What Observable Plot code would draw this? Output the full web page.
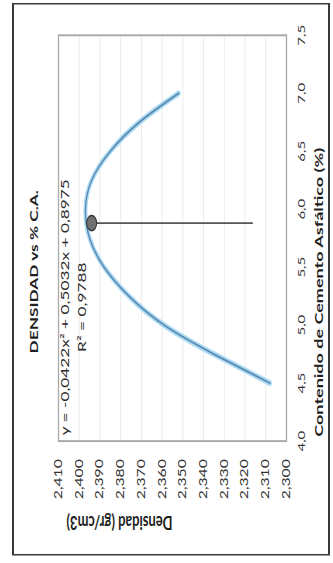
<!DOCTYPE html>
<html>
<head>
<meta charset="utf-8">
<script src="https://cdn.jsdelivr.net/npm/d3@7"></script>
<script src="https://cdn.jsdelivr.net/npm/@observablehq/plot@0.6"></script>
<style>
  html, body { margin: 0; padding: 0; background: #fff; }
  body { width: 333px; height: 563px; overflow: hidden; position: relative; font-family: Lato, "Liberation Sans", sans-serif; }
  /* The chart is laid out landscape, then turned a quarter turn and stretched along its x axis */
  #chart { position: absolute; left: 0; top: 0; width: 375px; height: 333px; transform-origin: 0 0; transform: translate(0px, 563px) rotate(-90deg) scaleX(1.5013); }
  #marco { position: absolute; left: 4.7px; top: 12px; width: 368px; height: 318px; box-sizing: border-box; border: 2px solid #3a3a3a; border-left-width: 1.4px; border-right-width: 1.4px; }
  #titulo { position: absolute; left: 0; width: 388px; top: 26px; text-align: center; font-weight: 700; font-size: 11.5px; line-height: 16px; color: #1e1e1e; }
  #chart svg { position: absolute; left: 0; top: 0; }
</style>
</head>
<body>
<div id="chart">
  <div id="marco"></div>
  <div id="titulo">DENSIDAD vs % C.A.</div>
</div>
<script>
// Contenido de cemento asfáltico (%) y densidad (gr/cm3)
const contenidoCA = [4.5, 4.75, 5.0, 5.25, 5.5, 5.75, 6.0, 6.25, 6.5, 6.75, 7.0];
const densidad = [2.308, 2.335, 2.359, 2.376, 2.388, 2.395, 2.397, 2.394, 2.385, 2.371, 2.352];

// Marcas de los ejes
const ticksCA = [4.0, 4.5, 5.0, 5.5, 6.0, 6.5, 7.0, 7.5];
const ticksDensidad = [2.300, 2.310, 2.320, 2.330, 2.340, 2.350, 2.360, 2.370, 2.380, 2.390, 2.400, 2.410];

// Contenido óptimo señalado y su línea de referencia
const optimoCA = [5.88];
const densidadOptima = [2.394];
const densidadBase = [2.316];

// Textos
const ecuacion = "y = -0,0422x² + 0,5032x + 0,8975";
const ajusteR2 = "R² = 0,9788";
const tituloX = "Contenido de Cemento Asfáltico (%)";
const tituloY = "Densidad (gr/cm3)";

const puntos = contenidoCA.map((x, i) => ({x, y: densidad[i]}));
const optimo = optimoCA.map((x, i) => ({x, y: densidadOptima[i], y0: densidadBase[i]}));
const coma = n => d => d.toFixed(n).replace(".", ",");
const fuente = "Lato, 'Liberation Sans', sans-serif";

const grafico = Plot.plot({
  width: 375,
  height: 333,
  marginLeft: 80.7,
  marginRight: 24,
  marginTop: 58,
  marginBottom: 47,
  style: {fontFamily: fuente, background: "transparent", overflow: "visible", color: "#333"},
  x: {domain: [4, 7.5]},
  y: {domain: [2.30, 2.41]},
  marks: [
    Plot.gridY(ticksDensidad, {stroke: "#ebebeb", strokeOpacity: 1}),
    Plot.frame({stroke: "#a9a9a9", strokeWidth: 1.3}),
    Plot.axisX(ticksCA, {tickSize: 0, tickPadding: 11, fontSize: 10, fill: "#333", label: null, tickFormat: coma(1)}),
    Plot.axisY(ticksDensidad, {tickSize: 0, tickPadding: 12, fontSize: 10.5, fill: "#333", label: null, tickFormat: coma(3)}),
    Plot.line(puntos, {x: "x", y: "y", curve: "natural", stroke: "#aedcf4", strokeWidth: 4}),
    Plot.line(puntos, {x: "x", y: "y", curve: "natural", stroke: "#5d8db5", strokeWidth: 1.4}),
    Plot.ruleX(optimo, {x: "x", y1: "y", y2: "y0", stroke: "#555", strokeWidth: 1.2}),
    Plot.dot(optimo, {x: "x", y: "y", r: 5, fill: "#707070", stroke: "#333", strokeWidth: 1}),
    Plot.text([ecuacion + "\n" + ajusteR2], {text: d => d, frameAnchor: "top", dx: -46, dy: 13.5, lineAnchor: "middle", lineHeight: 1.48, fontSize: 11.5, fill: "#2a2a2a"}),
    Plot.text([tituloX], {text: d => d, frameAnchor: "bottom", dx: -36, dy: 33, lineAnchor: "middle", fontSize: 12, fontWeight: 700, fill: "#1e1e1e"}),
    Plot.text([tituloY], {text: d => d, frameAnchor: "left", rotate: -90, dx: -54, lineAnchor: "middle", fontSize: 13, fontWeight: 700, fill: "#1e1e1e"})
  ]
});
document.getElementById("chart").appendChild(grafico);
</script>
</body>
</html>
